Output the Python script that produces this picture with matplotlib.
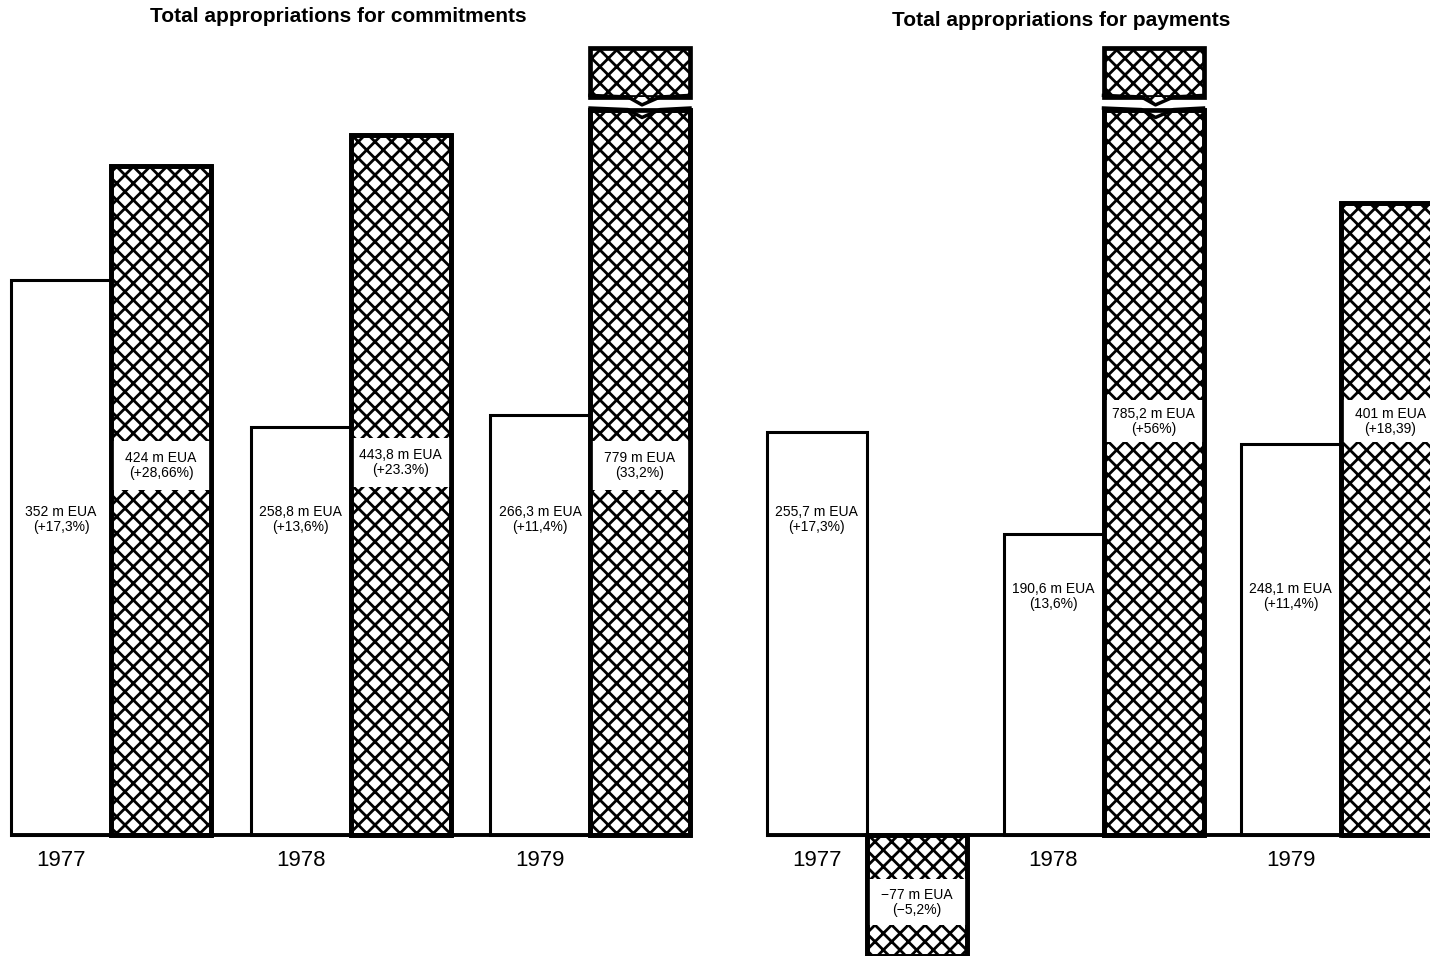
import numpy as np
import matplotlib
matplotlib.use("Agg")
import matplotlib.pyplot as plt

plt.rcParams['font.family'] = ['Liberation Sans Narrow', 'Liberation Sans', 'DejaVu Sans']
plt.rcParams['hatch.linewidth'] = 2.0

# data (m EUA)
years = ['1977', '1978', '1979']

commit_base = [352, 258.8, 266.3]
commit_base_lbl = ['352 m EUA\n(+17,3%)', '258,8 m EUA\n(+13,6%)', '266,3 m EUA\n(+11,4%)']
commit_incr = [424, 443.8, 779]
commit_incr_lbl = ['424 m EUA\n(+28,66%)', '443,8 m EUA\n(+23.3%)', '779 m EUA\n(33,2%)']

pay_base = [255.7, 190.6, 248.1]
pay_base_lbl = ['255,7 m EUA\n(+17,3%)', '190,6 m EUA\n(13,6%)', '248,1 m EUA\n(+11,4%)']
pay_incr = [-77, 785.2, 401]
pay_incr_lbl = ['\u221277 m EUA\n(\u22125,2%)', '785,2 m EUA\n(+56%)', '401 m EUA\n(+18,39)']

CAP = 460        # broken bars drawn up to here
TOP = (468, 499)  # detached top piece
HATCH = 'xx'

W, H = 1430, 956
fig = plt.figure(figsize=(W / 100, H / 100), dpi=100)


def panel(ax, base, base_lbl, incr, incr_lbl, step, base_y, box):
    x = np.arange(len(years)) * step
    xi = x + 1.0
    ax.bar(x, base, width=1.0, color='white', edgecolor='black', linewidth=2.2, zorder=2)
    shown = [min(v, CAP) for v in incr]
    ax.bar(xi, shown, width=1.0, color='white', edgecolor='black', hatch=HATCH,
           linewidth=3.4, zorder=2)
    for xx, v in zip(xi, incr):
        if v > CAP:
            ax.bar(xx, TOP[1] - TOP[0], bottom=TOP[0], width=1.0, color='white',
                   edgecolor='black', hatch=HATCH, linewidth=3.4, zorder=2)
            # wavy break: notch into the lower part, tooth on the upper part
            ax.fill([xx - 0.12, xx + 0.02, xx + 0.2], [CAP + 0.5, CAP - 5, CAP + 0.5],
                    color='white', zorder=3)
            ax.plot([xx - 0.5, xx - 0.12, xx + 0.02, xx + 0.2, xx + 0.5],
                    [CAP + 1, CAP, CAP - 5, CAP, CAP + 1], color='black', lw=2.5, zorder=4)
            ax.fill([xx - 0.12, xx + 0.02, xx + 0.2], [TOP[0], TOP[0] - 5, TOP[0]],
                    facecolor='white', edgecolor='black', hatch=HATCH, lw=0, zorder=3)
            ax.plot([xx - 0.5, xx - 0.12, xx + 0.02, xx + 0.2, xx + 0.5],
                    [TOP[0] + 1, TOP[0], TOP[0] - 5, TOP[0], TOP[0] + 1],
                    color='black', lw=2.5, zorder=4)
    # labels
    for xx, yy, t in zip(x, base_y, base_lbl):
        ax.text(xx, yy, t, ha='center', va='center', fontsize=10, linespacing=1.1, zorder=6)
    for xx, v, t, (b0, b1) in zip(xi, incr, incr_lbl, box):
        ax.bar(xx, b1 - b0, bottom=b0, width=1.0, color='white', edgecolor='none', zorder=4)
        ax.text(xx, (b0 + b1) / 2, t, ha='center', va='center', fontsize=10,
                linespacing=1.1, zorder=6)
    # redraw outlines of the hatched bars over the label boxes
    ax.bar(xi, shown, width=1.0, fill=False, edgecolor='black', linewidth=3.4, zorder=5)
    for xx, yr in zip(x, years):
        ax.text(xx, -16, yr, ha='center', va='center', fontsize=16)
    ax.plot([x[0] - 0.5, xi[-1] + 0.5], [0, 0], color='black', lw=2.8, zorder=5,
            solid_capstyle='butt')
    ax.set_ylim(-76.7, 529.5)
    ax.axis('off')


ax1 = fig.add_axes([0, 0, 700 / W, 1])
panel(ax1, commit_base, commit_base_lbl, commit_incr, commit_incr_lbl, 2.395,
      [200, 200, 200],
      [(219, 250), (221, 252), (219, 250)])
ax1.set_xlim(-0.61, 6.39)

ax2 = fig.add_axes([740 / W, 0, 690 / W, 1])
panel(ax2, pay_base, pay_base_lbl, pay_incr, pay_incr_lbl, 2.37,
      [200, 151, 151],
      [(-57, -28), (249, 276), (249, 276)])
ax2.set_xlim(-0.765, 6.135)

fig.text(338 / W, 1 - 17 / H, 'Total appropriations for commitments', ha='center',
         va='center', fontsize=15, fontweight='bold')
fig.text(1061 / W, 1 - 20 / H, 'Total appropriations for payments', ha='center',
         va='center', fontsize=15, fontweight='bold')

plt.savefig('out.png', dpi=100)
